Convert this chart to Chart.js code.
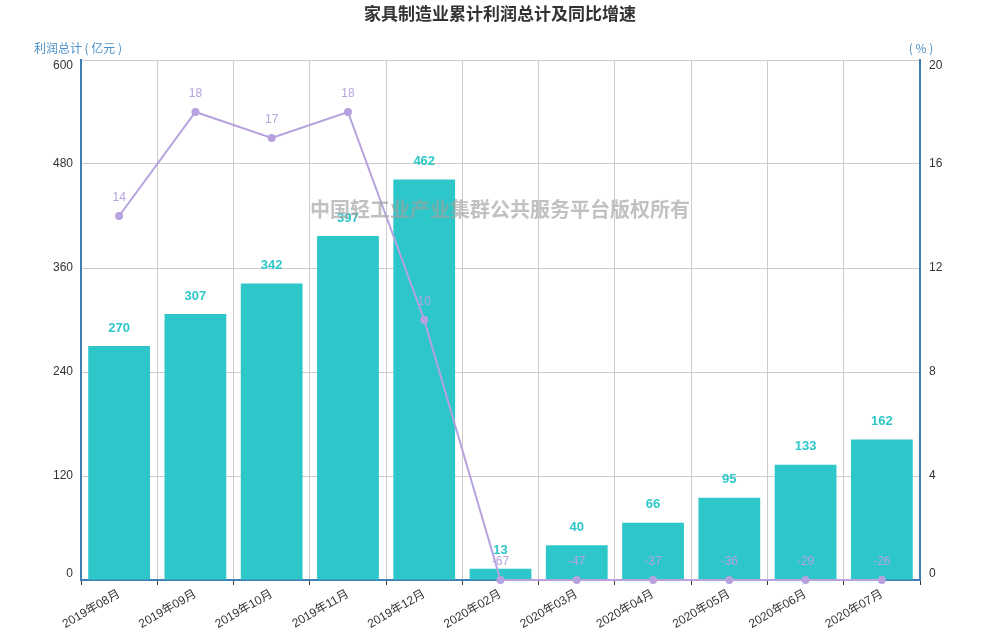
<!DOCTYPE html>
<html>
<head>
<meta charset="utf-8">
<script src="https://cdn.jsdelivr.net/npm/chart.js@4.4.0/dist/chart.umd.min.js"></script>
<style>
  html, body { margin: 0; padding: 0; background: #fff; }
  #wrap { width: 1000px; height: 640px; }
</style>
</head>
<body>
<div id="wrap"><canvas id="chart" width="1000" height="640"></canvas></div>
<script>
// 数据
var months = ["2019年08月", "2019年09月", "2019年10月", "2019年11月", "2019年12月",
  "2020年02月", "2020年03月", "2020年04月", "2020年05月", "2020年06月", "2020年07月"];
var profit = [270, 307, 342, 397, 462, 13, 40, 66, 95, 133, 162];
var growth = [14, 18, 17, 18, 10, -67, -47, -37, -36, -29, -26];
var leftTicks = [0, 120, 240, 360, 480, 600];
var rightTicks = [0, 4, 8, 12, 16, 20];

var FONT = "'Liberation Sans', 'Noto Sans CJK SC', sans-serif";
var CJK = "'Noto Sans CJK SC', 'Liberation Sans', sans-serif";
var barColor = "#2ec7c9";
var lineColor = "#b6a2de";
var axisBlue = "#3f7fb6";

// 右轴最小为0，负值贴在底部
var growthPlot = growth.map(function (v) { return Math.max(v, 0); });

// y轴刻度文字：两端向内收一点（跟原图一样）
function drawAxisLabels(ctx, scale, values, x, align) {
  var area = scale.chart.chartArea;
  ctx.textAlign = align;
  values.forEach(function (v) {
    var y = scale.getPixelForValue(v);
    y = Math.min(Math.max(y, area.top + 6), area.bottom - 6);
    ctx.fillText(v, x, y);
  });
}

var extras = {
  id: "extras",
  afterDatasetsDraw: function (chart) {
    var ctx = chart.ctx;
    ctx.save();
    ctx.textAlign = "center";
    ctx.textBaseline = "middle";

    // 柱子标签
    var barMeta = chart.getDatasetMeta(1);
    ctx.font = "bold 13px " + FONT;
    ctx.fillStyle = barColor;
    barMeta.data.forEach(function (el, i) {
      ctx.fillText(profit[i], el.x, el.y - 18);
    });

    // 折线标签
    var lineMeta = chart.getDatasetMeta(0);
    ctx.font = "12px " + FONT;
    ctx.fillStyle = lineColor;
    lineMeta.data.forEach(function (el, i) {
      ctx.fillText(growth[i], el.x, el.y - 18);
    });

    // 水印
    ctx.font = "bold 20px " + CJK;
    ctx.fillStyle = "rgba(160,160,160,0.65)";
    ctx.fillText("中国轻工业产业集群公共服务平台版权所有", 500, 209);
    ctx.restore();
  },
  afterDraw: function (chart) {
    var ctx = chart.ctx;
    var area = chart.chartArea;
    ctx.save();
    ctx.textBaseline = "middle";

    ctx.font = "12px " + FONT;
    ctx.fillStyle = "#333";
    drawAxisLabels(ctx, chart.scales.y, leftTicks, area.left - 8, "right");
    drawAxisLabels(ctx, chart.scales.y1, rightTicks, area.right + 9, "left");

    ctx.textAlign = "center";
    ctx.font = "bold 17px " + CJK;
    ctx.fillStyle = "#333";
    ctx.fillText("家具制造业累计利润总计及同比增速", 500, 14);

    ctx.font = "12px " + CJK;
    ctx.fillStyle = "#4a8fc7";
    ctx.fillText("利润总计 ( 亿元 )", area.left - 3, 48);
    ctx.fillText("( % )", area.right + 1, 48);
    ctx.restore();
  }
};

var ctx = document.getElementById("chart").getContext("2d");
var chart = new Chart(ctx, {
  data: {
    labels: months,
    datasets: [
      {
        type: "line",
        label: "同比增速",
        data: growthPlot,
        yAxisID: "y1",
        borderColor: lineColor,
        backgroundColor: lineColor,
        borderWidth: 2,
        pointRadius: 3,
        pointHoverRadius: 3,
        tension: 0,
        clip: 6,
        order: 1
      },
      {
        type: "bar",
        label: "利润总计",
        data: profit,
        yAxisID: "y",
        backgroundColor: barColor,
        barPercentage: 0.81,
        categoryPercentage: 1,
        order: 2
      }
    ]
  },
  options: {
    responsive: false,
    animation: false,
    layout: { padding: { top: 60, left: 0, right: 0, bottom: 0 } },
    plugins: {
      legend: { display: false },
      title: { display: false },
      tooltip: { enabled: false }
    },
    scales: {
      x: {
        offset: true,
        grid: {
          offset: true,
          color: "#cccccc",
          tickColor: "#333",
          tickLength: 5
        },
        border: { color: axisBlue, width: 2 },
        ticks: {
          color: "#333",
          font: { size: 12, family: FONT },
          maxRotation: 30,
          minRotation: 30,
          autoSkip: false,
          padding: 2
        },
        afterFit: function (scale) { scale.height = 60; }
      },
      y: {
        position: "left",
        min: 0,
        max: 600,
        afterBuildTicks: function (scale) {
          scale.ticks = leftTicks.map(function (v) { return { value: v }; });
        },
        grid: { color: "#cccccc", drawTicks: false },
        border: { color: axisBlue, width: 2 },
        ticks: { display: false },
        afterFit: function (scale) { scale.width = 81; }
      },
      y1: {
        position: "right",
        min: 0,
        max: 20,
        afterBuildTicks: function (scale) {
          scale.ticks = rightTicks.map(function (v) { return { value: v }; });
        },
        grid: { drawOnChartArea: false, drawTicks: false },
        border: { color: axisBlue, width: 2 },
        ticks: { display: false },
        afterFit: function (scale) { scale.width = 80; }
      }
    }
  },
  plugins: [extras]
});
</script>
</body>
</html>
